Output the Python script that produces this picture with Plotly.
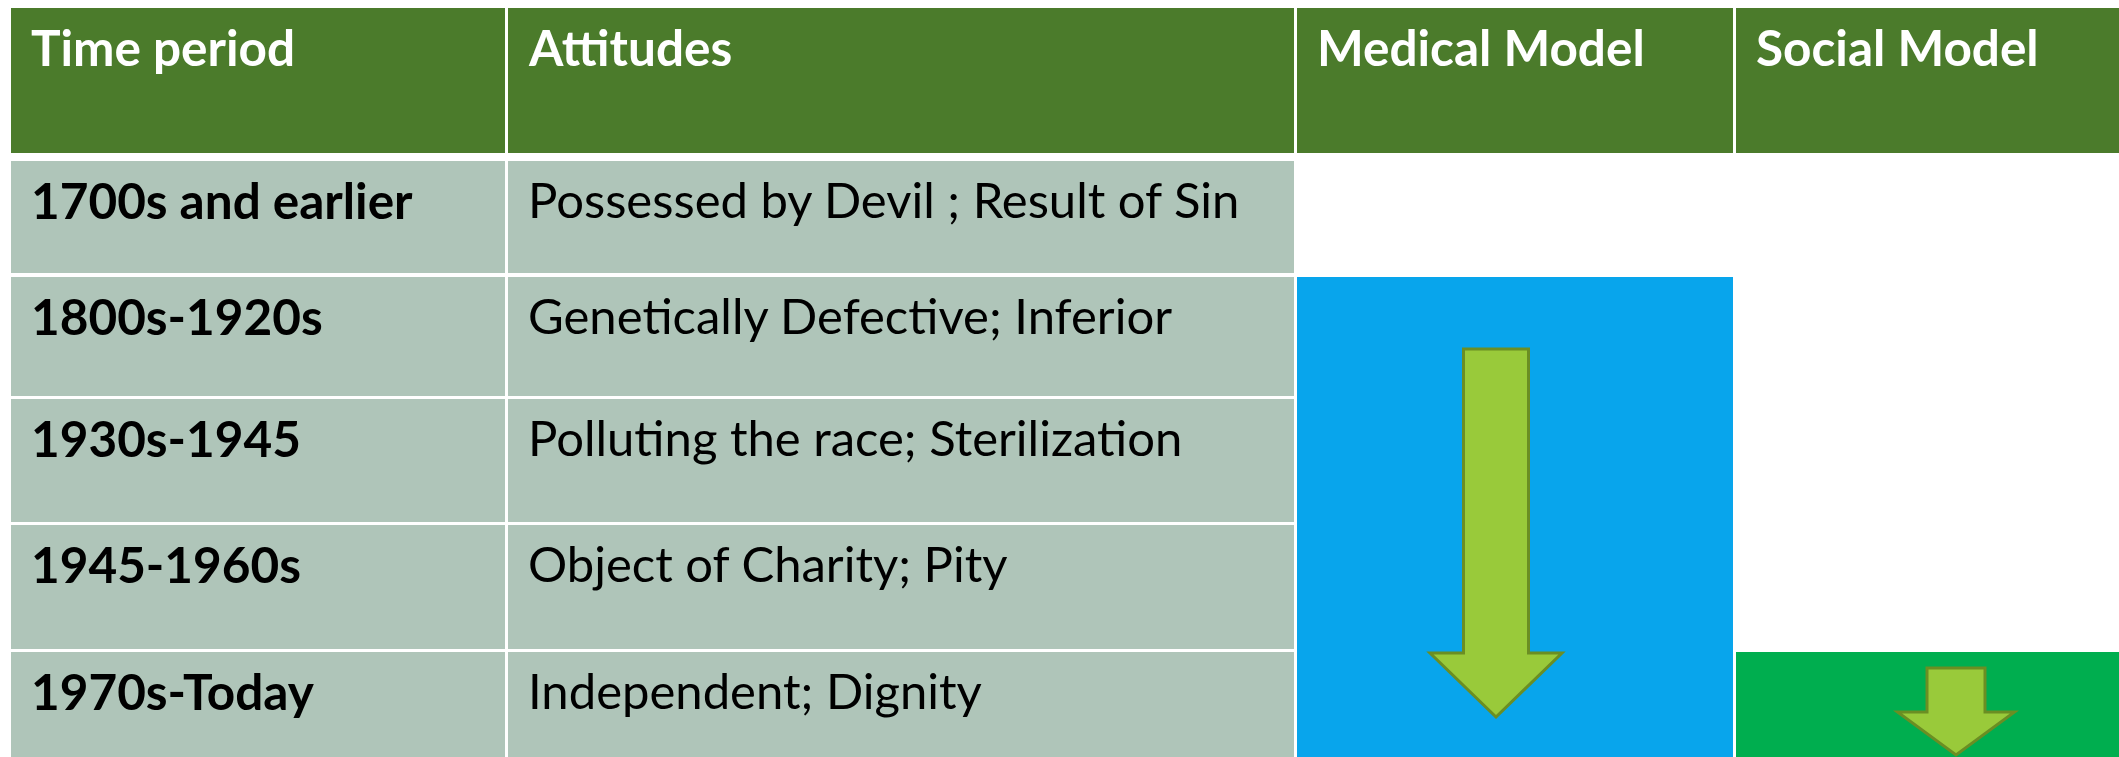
import plotly.graph_objects as go

# ---- data ----
headers = ["Time period", "Attitudes", "Medical Model", "Social Model"]
time_periods = ["1700s and earlier", "1800s-1920s", "1930s-1945", "1945-1960s", "1970s-Today"]
attitudes = [
    "Possessed by Devil ; Result of Sin",
    "Genetically Defective; Inferior",
    "Polluting the race; Sterilization",
    "Object of Charity; Pity",
    "Independent; Dignity",
]
medical_model_from = "1800s-1920s"
social_model_from = "1970s-Today"

# ---- layout (pixels) ----
W, H = 2119, 757
col_left = [11, 508, 1297, 1736]
col_right = [505, 1294, 1733, 2119]
header_top, header_bottom = 8, 153
row_top = [161, 277, 399, 525, 652]
row_bottom = [273, 396, 522, 649, 757]
pad_x = 18
text_dy = 7

HEADER_C = "#4B7B2B"
BODY_C = "#AFC5B9"
BLUE_C = "#08A5EC"
GREEN_C = "#00AE4F"
ARROW_FILL = "#99CA3A"
ARROW_LINE = "#6B8E23"
FONT = "Lato, Carlito, 'Open Sans', sans-serif"
FS_BOLD = 49.5
FS_REG = 49

fig = go.Figure()
shapes = []
annotations = []

def rect(x0, y0, x1, y1, color):
    shapes.append(dict(type="rect", xref="x", yref="y", x0=x0, x1=x1, y0=y0, y1=y1,
                       fillcolor=color, line=dict(width=0), layer="below"))

def label(x, y, text, bold, color):
    annotations.append(dict(x=x, y=y, xref="x", yref="y", xanchor="left", yanchor="top",
                            text=("<b>%s</b>" % text) if bold else text, showarrow=False,
                            font=dict(family=FONT, size=FS_BOLD if bold else FS_REG, color=color),
                            align="left"))

# header
for i, h in enumerate(headers):
    rect(col_left[i], header_top, col_right[i], header_bottom, HEADER_C)
    label(col_left[i] + pad_x, header_top + text_dy, h, True, "white")

# body rows
for r, (tp, at) in enumerate(zip(time_periods, attitudes)):
    rect(col_left[0], row_top[r], col_right[0], row_bottom[r], BODY_C)
    rect(col_left[1], row_top[r], col_right[1], row_bottom[r], BODY_C)
    label(col_left[0] + pad_x, row_top[r] + text_dy, tp, True, "black")
    label(col_left[1] + pad_x, row_top[r] + text_dy, at, False, "black")

# model blocks
mi = time_periods.index(medical_model_from)
si = time_periods.index(social_model_from)
rect(col_left[2], row_top[mi], col_right[2], H, BLUE_C)
rect(col_left[3], row_top[si], col_right[3], H, GREEN_C)

def down_arrow(cx, shaft_w, head_w, top, head_y, tip_y):
    xs = [cx - shaft_w / 2, cx + shaft_w / 2, cx + shaft_w / 2, cx + head_w / 2, cx,
          cx - head_w / 2, cx - shaft_w / 2, cx - shaft_w / 2]
    ys = [top, top, head_y, head_y, tip_y, head_y, head_y, top]
    path = "M " + " L ".join("%g,%g" % (x, y) for x, y in zip(xs, ys)) + " Z"
    shapes.append(dict(type="path", xref="x", yref="y", path=path, fillcolor=ARROW_FILL,
                       line=dict(color=ARROW_LINE, width=3), layer="above"))

down_arrow(1496, 65, 132, 349, 653, 717)
down_arrow(1956, 58, 117, 668, 712, 755)

fig.update_layout(
    width=W, height=H, margin=dict(l=0, r=0, t=0, b=0),
    paper_bgcolor="white", plot_bgcolor="white",
    xaxis=dict(range=[0, W], visible=False, fixedrange=True),
    yaxis=dict(range=[H, 0], visible=False, fixedrange=True),
    shapes=shapes, annotations=annotations, showlegend=False,
)
fig.write_html(
    "out.html",
    config={"displayModeBar": False},
    post_script="document.body.style.margin='0';document.body.style.overflow='hidden';",
)
